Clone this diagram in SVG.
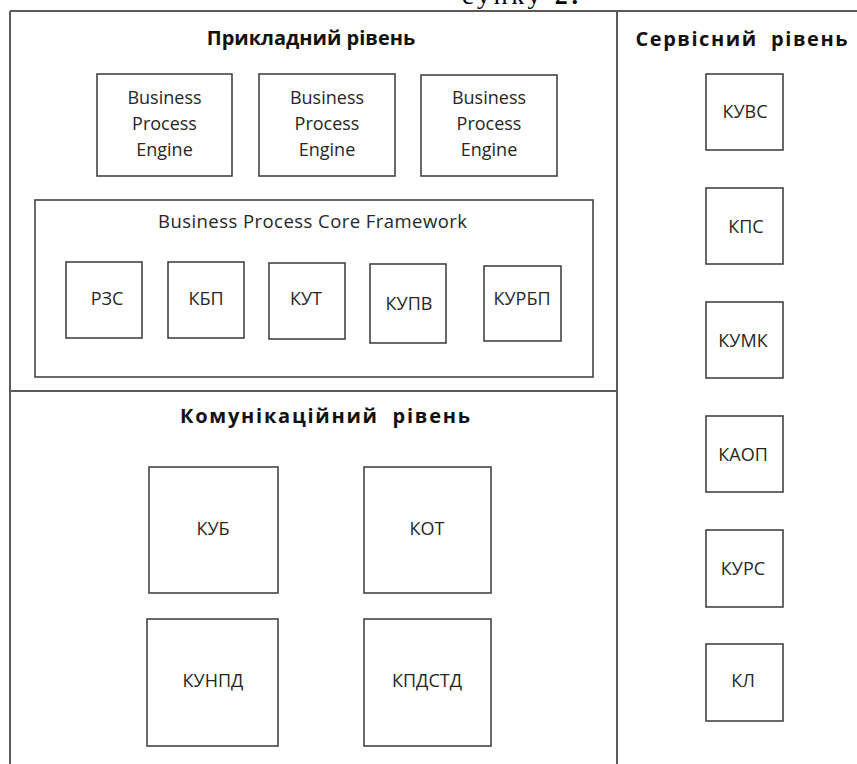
<svg xmlns="http://www.w3.org/2000/svg" width="857" height="764" viewBox="0 0 857 764">
<style>
.frame{fill:none;stroke:#5a5a5a;stroke-width:2}
.box{fill:#fff;stroke:#444;stroke-width:1.6}
.t{font-family:"Open Sans","Liberation Sans",sans-serif;fill:#262626;text-anchor:middle}
.lbl{font-size:18px}
.eng{font-size:18px}
.ttl{font-family:"Open Sans","Liberation Sans",sans-serif;font-weight:bold;font-size:20px;fill:#111;text-anchor:middle;white-space:pre}
.cap{font-family:"Liberation Serif","Times New Roman",serif;font-size:26px;fill:#000}
</style>
<rect x="0" y="0" width="857" height="764" fill="#fff"/>
<text class="cap" x="462" y="4" textLength="116" lengthAdjust="spacing">сунку <tspan font-weight="bold">2.</tspan></text>

<g id="layers">
  <path class="frame" d="M10 11 H857 M10 11 V764 M617 11 V764 M10 391 H617"/>
</g>

<g id="app-layer">
  <text class="ttl" x="311" y="45">Прикладний рівень</text>
</g>
<g id="service-layer">
  <text class="ttl" x="741.5" y="46" font-size="21" textLength="212" lengthAdjust="spacing">Сервісний  рівень</text>
</g>
<g id="comm-layer">
  <text class="ttl" x="325" y="423" font-size="21" textLength="290" lengthAdjust="spacing">Комунікаційний  рівень</text>
</g>

<g id="bpe1">
  <rect class="box" x="97" y="74" width="135" height="102"/>
  <text class="t eng" x="164.5" y="104">Business</text>
  <text class="t eng" x="164.5" y="130">Process</text>
  <text class="t eng" x="164.5" y="156">Engine</text>
</g>
<g id="bpe2">
  <rect class="box" x="259" y="74" width="136" height="102"/>
  <text class="t eng" x="327" y="104">Business</text>
  <text class="t eng" x="327" y="130">Process</text>
  <text class="t eng" x="327" y="156">Engine</text>
</g>
<g id="bpe3">
  <rect class="box" x="421" y="75" width="136" height="101"/>
  <text class="t eng" x="489" y="104">Business</text>
  <text class="t eng" x="489" y="130">Process</text>
  <text class="t eng" x="489" y="156">Engine</text>
</g>

<g id="bpcf">
  <rect class="box" x="35" y="200" width="558" height="177"/>
  <text class="t" font-size="18.5" x="312.5" y="228" textLength="309" lengthAdjust="spacing">Business Process Core Framework</text>
</g>
<g id="rzs">
  <rect class="box" x="66" y="262" width="76" height="76"/>
  <text class="t lbl" x="107" y="305">РЗС</text>
</g>
<g id="kbp">
  <rect class="box" x="168" y="262" width="76" height="76"/>
  <text class="t lbl" x="206" y="305">КБП</text>
</g>
<g id="kut">
  <rect class="box" x="269" y="263" width="76" height="76"/>
  <text class="t lbl" x="306" y="305">КУТ</text>
</g>
<g id="kupv">
  <rect class="box" x="370" y="264" width="76" height="79"/>
  <text class="t lbl" x="409" y="310">КУПВ</text>
</g>
<g id="kurbp">
  <rect class="box" x="484" y="266" width="77" height="75"/>
  <text class="t lbl" x="522" y="305">КУРБП</text>
</g>

<g id="kuvs">
  <rect class="box" x="706" y="74" width="77" height="76"/>
  <text class="t lbl" x="745" y="118">КУВС</text>
</g>
<g id="kps">
  <rect class="box" x="706" y="188" width="77" height="76"/>
  <text class="t lbl" x="746" y="233">КПС</text>
</g>
<g id="kumk">
  <rect class="box" x="706" y="302" width="77" height="76"/>
  <text class="t lbl" x="743" y="347">КУМК</text>
</g>
<g id="kaop">
  <rect class="box" x="706" y="416" width="77" height="76"/>
  <text class="t lbl" x="743" y="461">КАОП</text>
</g>
<g id="kurs">
  <rect class="box" x="706" y="530" width="77" height="77"/>
  <text class="t lbl" x="743" y="575">КУРС</text>
</g>
<g id="kl">
  <rect class="box" x="706" y="644" width="77" height="77"/>
  <text class="t lbl" x="743" y="687">КЛ</text>
</g>

<g id="kub">
  <rect class="box" x="149" y="467" width="129" height="126"/>
  <text class="t lbl" x="213" y="535">КУБ</text>
</g>
<g id="kot">
  <rect class="box" x="364" y="467" width="127" height="126"/>
  <text class="t lbl" x="427" y="535">КОТ</text>
</g>
<g id="kunpd">
  <rect class="box" x="147" y="619" width="131" height="127"/>
  <text class="t lbl" x="213" y="687">КУНПД</text>
</g>
<g id="kpdstd">
  <rect class="box" x="364" y="619" width="127" height="127"/>
  <text class="t lbl" x="427" y="687">КПДСТД</text>
</g>

<g id="connectors"/>
</svg>
